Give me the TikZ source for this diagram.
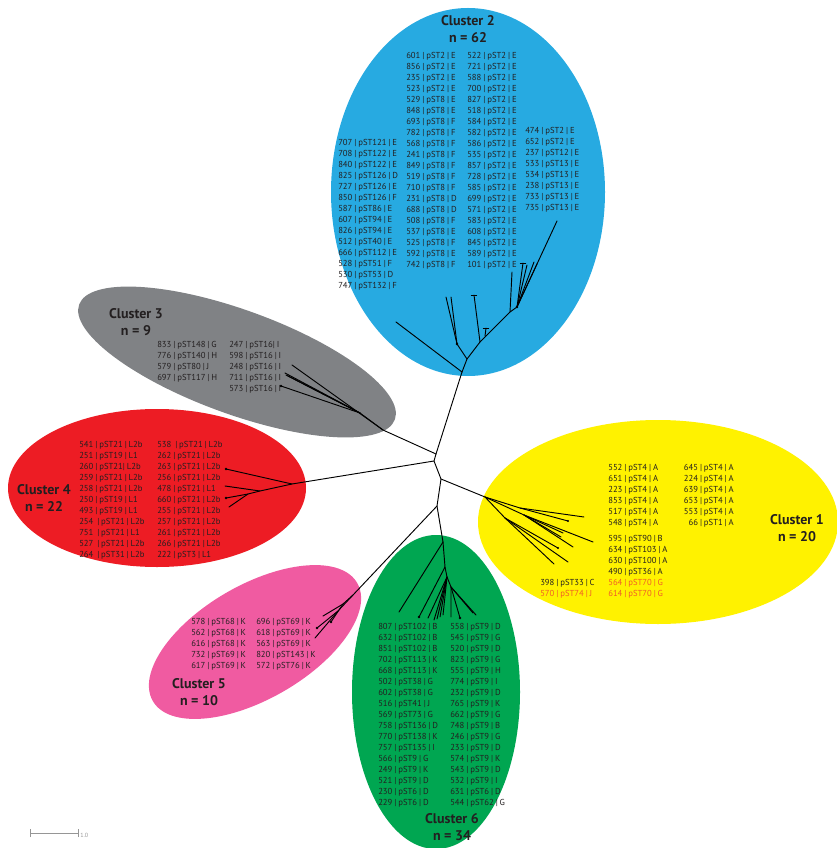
\documentclass[tikz,border=0pt]{standalone}
\usepackage{fontspec}
\setmainfont{PT Sans}
\definecolor{cblue}{RGB}{39,170,225}
\definecolor{cgray}{RGB}{128,130,133}
\definecolor{cred}{RGB}{237,28,36}
\definecolor{cyellow}{RGB}{255,242,0}
\definecolor{cgreen}{RGB}{0,166,81}
\definecolor{cpink}{RGB}{240,91,161}
\definecolor{txt}{RGB}{35,31,32}
\definecolor{otxt}{RGB}{241,90,41}
\definecolor{barc}{RGB}{150,150,150}
\newcommand{\lblfont}{\fontsize{6.5}{8.25}\selectfont}
\tikzset{
  tree/.style={line width=0.7pt, black, line cap=round},
  lbl/.style={inner sep=0pt, font=\lblfont, text=txt},
  ttl/.style={inner sep=0pt, font=\fontsize{10.5}{12.75}\selectfont\bfseries, text=txt, align=center},
  tipdot/.style={fill=black},
}
\newcommand{\col}[1]{\spaceskip=0.22em plus 0.05em\relax\begin{tabular}[t]{@{}l@{}}#1\end{tabular}}
\newcommand{\rcol}[1]{\spaceskip=0.22em plus 0.05em\relax\begin{tabular}[t]{@{}r@{}}#1\end{tabular}}
\begin{document}
\begin{tikzpicture}[x=0.75pt,y=-0.75pt]
\useasboundingbox (0,0) rectangle (837,848);
% ---------- cluster backgrounds ----------
\coordinate (e2) at (468,192);
\coordinate (e3) at (237,362);
\coordinate (e4) at (157,488);
\coordinate (e1) at (658,522);
\coordinate (e6) at (436,692);
\coordinate (e5) at (255,642);
\fill[cblue] (e2) ellipse [x radius=137, y radius=184];
\fill[cgray, rotate around={-20:(e3)}] (e3) ellipse [x radius=168, y radius=52];
\fill[cred] (e4) ellipse [x radius=149, y radius=79];
\fill[cyellow] (e1) ellipse [x radius=180, y radius=102];
\fill[cgreen] (e6) ellipse [x radius=84, y radius=157];
\fill[cpink, rotate around={30:(e5)}] (e5) ellipse [x radius=118, y radius=57];

% ---------- titles ----------
\node[ttl] (t2) at (468,29) {Cluster 2\\n = 62};
\node[ttl] (t3) at (136,322) {Cluster 3\\n = 9};
\node[ttl] (t4) at (44,498) {Cluster 4\\n = 22};
\node[ttl] (t1) at (797,528) {Cluster 1\\n = 20};
\node[ttl] (t5) at (199,692) {Cluster 5\\n = 10};
\node[ttl] (t6) at (452,827) {Cluster 6\\n = 34};

% ---------- Cluster 2 labels ----------
\node[lbl, anchor=base west] (c2a) at (338,145.5) {\col{707 | pST121 | E\\708 | pST122 | E\\840 | pST122 | E\\825 | pST126 | D\\727 | pST126 | E\\850 | pST126 | F\\587 | pST86 | E\\607 | pST94 | E\\826 | pST94 | E\\512 | pST40 | E\\666 | pST112 | E\\528 | pST51 | F\\530 | pST53 | D\\747 | pST132 | F}};
\node[lbl, anchor=base west] (c2b) at (406,59) {\col{601 | pST2 | E\\856 | pST2 | E\\235 | pST2 | E\\523 | pST2 | E\\529 | pST8 | E\\848 | pST8 | E\\693 | pST8 | F\\782 | pST8 | F\\568 | pST8 | F\\241 | pST8 | F\\849 | pST8 | F\\519 | pST8 | F\\710 | pST8 | F\\231 | pST8 | D\\688 | pST8 | D\\508 | pST8 | F\\537 | pST8 | E\\525 | pST8 | F\\592 | pST8 | E\\742 | pST8 | F}};
\node[lbl, anchor=base west] (c2c) at (467,59) {\col{522 | pST2 | E\\721 | pST2 | E\\588 | pST2 | E\\700 | pST2 | E\\827 | pST2 | E\\518 | pST2 | E\\584 | pST2 | E\\582 | pST2 | E\\586 | pST2 | E\\535 | pST2 | E\\857 | pST2 | E\\728 | pST2 | E\\585 | pST2 | E\\699 | pST2 | E\\571 | pST2 | E\\583 | pST2 | E\\608 | pST2 | E\\845 | pST2 | E\\589 | pST2 | E\\101 | pST2 | E}};
\node[lbl, anchor=base west] (c2d) at (525,133.5) {\col{474 | pST2 | E\\652 | pST2 | E\\237 | pST12 | E\\533 | pST13 | E\\534 | pST13 | E\\238 | pST13 | E\\733 | pST13 | E\\735 | pST13 | E}};

% ---------- Cluster 3 labels ----------
\node[lbl, anchor=base west] (c3a) at (157,347.5) {\col{833 | pST148 | G\\776 | pST140 | H\\579 | pST80 | J\\697 | pST117 | H}};
\node[lbl, anchor=base west] (c3b) at (229,347.5) {\col{247 | pST16| I\\598 | pST16 | I\\248 | pST16 | I\\711 | pST16 | I\\573 | pST16 | I}};

% ---------- Cluster 4 labels ----------
\node[lbl, anchor=base west] (c4a) at (79,447.5) {\col{541 | pST21 | L2b\\251 | pST19 | L1\\260 | pST21| L2b\\259 | pST21 | L2b\\258 | pST21 | L2b\\250 | pST19 | L1\\493 | pST19 | L1\\254 \ | pST21 | L2b\\751 \ | pST21 | L1\\527 \ | pST21 | L2b\\264 \ | pST31 | L2b}};
\node[lbl, anchor=base west] (c4b) at (157,447.5) {\col{538 \ | pST21 | L2b\\262 | pST21 | L2b\\263 | pST21 | L2b\\256 | pST21 | L2b\\478 | pST21 | L1\\660 | pST21 | L2b\\255 | pST21 | L2b\\257 | pST21 | L2b\\261 | pST21 | L2b\\266 | pST21 | L2b\\222 | pST3 | L1}};

% ---------- Cluster 1 labels ----------
\node[lbl, anchor=base west] (c1a) at (608,470.5) {\col{552 | pST4 | A\\651 | pST4 | A\\223 | pST4 | A\\853 | pST4 | A\\517 | pST4 | A\\548 | pST4 | A}};
\node[lbl, anchor=base east] (c1b) at (734,470.5) {\rcol{645 | pST4 | A\\224 | pST4 | A\\639 | pST4 | A\\653 | pST4 | A\\553 | pST4 | A\\66 | pST1 | A}};
\node[lbl, anchor=base west] (c1c) at (608,541.5) {\col{595 | pST90 | B\\634 | pST103 | A\\630 | pST100 | A\\490 | pST36 | A\\\textcolor{otxt}{564 | pST70 | G}\\\textcolor{otxt}{614 | pST70 | G}}};
\node[lbl, anchor=base west] (c1d) at (540,585.5) {\col{398 | pST33 | C\\\textcolor{otxt}{570 | pST74 | J}}};

% ---------- Cluster 5 labels ----------
\node[lbl, anchor=base west] (c5a) at (191,624.5) {\col{578 | pST68 | K\\562 | pST68 | K\\616 | pST68 | K\\732 | pST69 | K\\617 | pST69 | K}};
\node[lbl, anchor=base west] (c5b) at (256,624.5) {\col{696 | pST69 | K\\618 | pST69 | K\\563 | pST69 | K\\820 | pST143 | K\\572 | pST76 | K}};

% ---------- Cluster 6 labels ----------
\node[lbl, anchor=base west] (c6a) at (378,629.5) {\col{807 | pST102 | B\\632 | pST102 | B\\851 | pST102 | B\\702 | pST113 | K\\668 | pST113 | K\\502 | pST38 | G\\602 | pST38 | G\\516 | pST41 | J\\569 | pST73 | G\\758 | pST136 | D\\770 | pST138 | K\\757 | pST135 | I\\566 | pST9 | G\\249 | pST9 | K\\521 | pST9 | D\\230 | pST6 | D\\229 | pST6 | D}};
\node[lbl, anchor=base west] (c6b) at (450,629.5) {\col{558 | pST9 | D\\545 | pST9 | G\\520 | pST9 | D\\823 | pST9 | G\\555 | pST9 | H\\774 | pST9 | I\\232 | pST9 | D\\765 | pST9 | K\\662 | pST9 | G\\748 | pST9 | B\\246 | pST9 | G\\233 | pST9 | D\\574 | pST9 | K\\543 | pST9 | D\\532 | pST9 | I\\631 | pST6 | D\\544 | pST62 | G}};

% ---------- tree: backbone ----------
\coordinate (A) at (436,454);
\coordinate (A2) at (434,461);
\coordinate (B) at (441,479);
\coordinate (C) at (437,506);
\coordinate (D) at (443,542);
\draw[tree] (A) -- (A2) -- (B) -- (C) -- (D);

% blue
\coordinate (b1) at (462,372);
\coordinate (b2) at (467,359);
\coordinate (b3) at (457,344);
\coordinate (b4) at (480,342);
\coordinate (b5) at (510,312);
\coordinate (b6) at (517,307);
\coordinate (bs) at (485,336);
\coordinate (bl1) at (396,322);
\coordinate (bl2) at (446,297);
\coordinate (bl3) at (451,297);
\coordinate (bl4) at (474,295);
\coordinate (bl5) at (486,328);
\coordinate (bl6) at (512,272);
\coordinate (bl7) at (523,263);
\coordinate (bl8) at (527,265);
\coordinate (bl9) at (534,262);
\coordinate (bl10) at (537,264);
\coordinate (bl11) at (557,221);
\draw[tree] (A) -- (b1) -- (b2) -- (b4) -- (b5) -- (b6);
\draw[tree] (b1) -- (bl1);
\draw[tree] (b2) -- (b3) -- (bl2);
\draw[tree] (b3) -- (bl3);
\draw[tree] (b4) -- (bl4);
\draw[tree] (bs) -- (bl5);
\draw[tree] (b5) -- (bl6);
\draw[tree] (b6) -- (bl7);
\draw[tree] (b6) -- (bl8);
\draw[tree] (b6) -- (bl9);
\draw[tree] (b6) -- (bl10);
\draw[tree] (b6) -- (bl11);
\draw[tree] ([xshift=-2]bl4) -- ([xshift=2]bl4);
\draw[tree] ([xshift=-2]bl5) -- ([xshift=2]bl5);
\draw[tree] ([xshift=-2]bl7) -- ([xshift=2]bl7);
\fill[tipdot] (b3) circle (1.3);
\fill[tipdot] (b6) circle (1.3);

% gray
\coordinate (g1) at (383,430);
\coordinate (g2) at (360,413);
\coordinate (gl1) at (292,365);
\coordinate (gl2) at (285,373);
\coordinate (gl3) at (286,375);
\coordinate (gl4) at (288,376);
\coordinate (gl5) at (281,386);
\draw[tree] (A) -- (g1) -- (gl1);
\draw[tree] (g1) -- (g2) -- (gl2);
\draw[tree] (g2) -- (gl3);
\draw[tree] (g2) -- (gl4);
\draw[tree] (g2) -- (gl5);
\fill[tipdot] (gl5) circle (1.3);

% red
\coordinate (r1) at (292,484);
\coordinate (r2) at (260,491);
\coordinate (r3) at (248,494);
\coordinate (rl1) at (226,469);
\coordinate (rl2) at (225,486);
\coordinate (rl3) at (226,498);
\coordinate (rl4) at (229,507);
\draw[tree] (A2) -- (r1) -- (rl1);
\draw[tree] (r1) -- (r2) -- (rl2);
\draw[tree] (r2) -- (r3) -- (rl3);
\draw[tree] (r3) -- (rl4);
\fill[tipdot] (rl1) circle (1.3);
\fill[tipdot] (rl3) circle (1.3);

% yellow
\coordinate (y0) at (485,497);
\coordinate (y1) at (520,508);
\coordinate (y2) at (524,515);
\coordinate (y3) at (505,518);
\coordinate (yl1) at (584,517);
\coordinate (yl2) at (568,521);
\coordinate (yl3) at (563,533);
\coordinate (yl4) at (561,537);
\coordinate (yl5) at (593,542);
\coordinate (yl6) at (573,547);
\coordinate (yl7) at (558,548);
\coordinate (yl8) at (568,562);
\coordinate (yl9) at (554,564);
\draw[tree] (B) -- (y0) -- (y1) -- (yl1);
\draw[tree] (y1) -- (yl2);
\draw[tree] (y0) -- (y2) -- (yl3);
\draw[tree] (y2) -- (yl4);
\draw[tree] (y2) -- (yl5);
\draw[tree] (y2) -- (yl6);
\draw[tree] (y0) -- (y3) -- (yl7);
\draw[tree] (y3) -- (yl8);
\draw[tree] (y3) -- (yl9);
\fill[tipdot] (yl2) circle (1.1);
\fill[tipdot] (yl7) circle (1.1);

% green
\coordinate (d1) at (445,567);
\coordinate (d2) at (447,577);
\coordinate (d3) at (451,587);
\coordinate (dl1) at (399,612);
\coordinate (dl2) at (419,617);
\coordinate (dl3) at (428,618);
\coordinate (dl4) at (434,620);
\coordinate (dl5) at (437,619);
\coordinate (dl6) at (440,617);
\coordinate (dl7) at (443,615);
\coordinate (dl8) at (451,617);
\coordinate (dl9) at (460,618);
\coordinate (dl10) at (473,613);
\coordinate (dl11) at (476,615);
\draw[tree] (D) -- (dl1);
\draw[tree] (D) -- (d1) -- (dl2);
\draw[tree] (d1) -- (d2) -- (dl3);
\draw[tree] (d2) -- (dl4);
\draw[tree] (d2) -- (dl5);
\draw[tree] (d2) -- (dl6);
\draw[tree] (d2) -- (dl7);
\draw[tree] (d2) -- (d3) -- (dl8);
\draw[tree] (d3) -- (dl9);
\draw[tree] (d3) -- (dl10);
\draw[tree] (d3) -- (dl11);
\fill[tipdot] (dl2) circle (1.3);
\fill[tipdot] (dl9) circle (1.3);

% pink
\coordinate (p1) at (353,595);
\coordinate (p2) at (343,604);
\coordinate (p3) at (338,611);
\coordinate (pl1) at (323,616);
\coordinate (pl2) at (331,622);
\coordinate (pl3) at (317,628);
\coordinate (pl4) at (315,638);
\draw[tree] (C) -- (p1) -- (p2) -- (pl1);
\draw[tree] (p2) -- (pl2);
\draw[tree] (p1) -- (p3) -- (pl3);
\draw[tree] (p3) -- (pl4);
\fill[tipdot] (pl2) circle (1.3);
\fill[tipdot] (pl3) circle (1.3);

% ---------- scale bar ----------
\coordinate (s0) at (30,833);
\coordinate (s1) at (78,833);
\draw[barc, line width=0.6pt] (s0) -- (s1);
\draw[barc, line width=0.6pt] ([yshift=-3]s0) -- ([yshift=3]s0);
\draw[barc, line width=0.6pt] ([yshift=-3]s1) -- ([yshift=3]s1);
\node[inner sep=0pt, anchor=west, font=\fontsize{4.5}{5}\selectfont, text=barc] (sl) at (80,835) {1.0};
\end{tikzpicture}
\end{document}
